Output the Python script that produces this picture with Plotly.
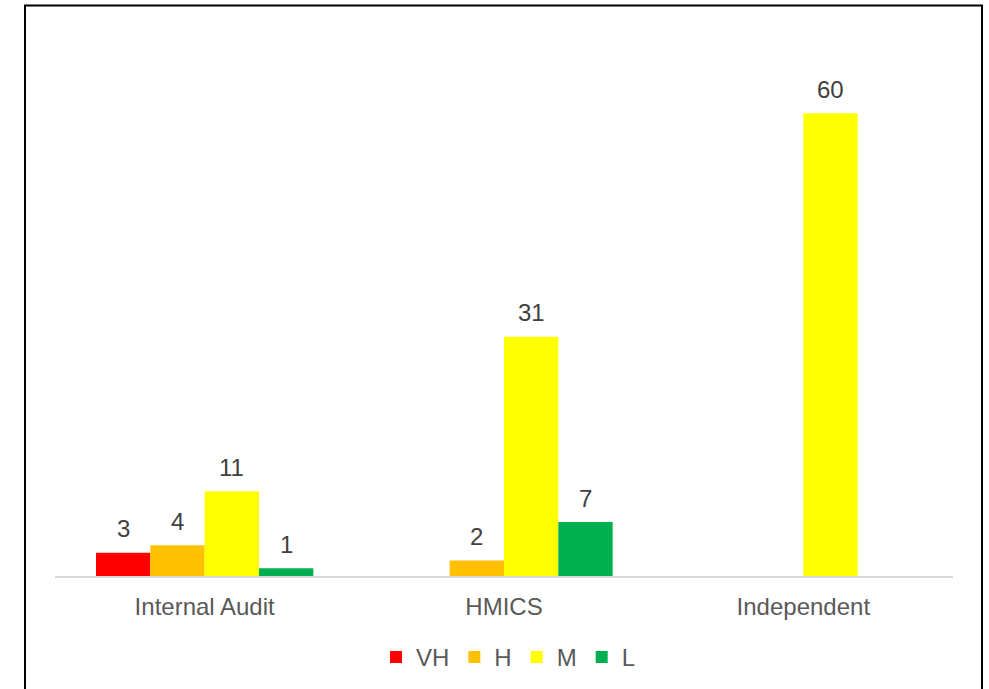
import plotly.graph_objects as go

# Categories and series values
categories = ["Internal Audit", "HMICS", "Independent"]
series_names = ["VH", "H", "M", "L"]
vh_values = [3, None, None]
h_values = [4, 2, None]
m_values = [11, 31, 60]
l_values = [1, 7, None]

series_values = [vh_values, h_values, m_values, l_values]
series_colors = ["#FF0000", "#FFC000", "#FFFF00", "#00B050"]

BAR_GAP = 0.274
FONT = "Liberation Sans, Arial, sans-serif"
FONT_SIZE = 24

x_pos = list(range(len(categories)))

fig = go.Figure()
for name, vals, color in zip(series_names, series_values, series_colors):
    fig.add_trace(go.Bar(
        x=x_pos, y=vals, name=name,
        marker=dict(color=color, line=dict(width=0)),
        hoverinfo="x+y+name",
    ))

# Value labels above each bar, placed at the bar's group offset
n = len(series_names)
bar_w = (1 - BAR_GAP) / n
annotations = []
for i, vals in enumerate(series_values):
    offset = -(1 - BAR_GAP) / 2 + bar_w * (i + 0.5)
    for xi, v in zip(x_pos, vals):
        if v is None:
            continue
        annotations.append(dict(
            x=xi + offset, y=v, xref="x", yref="y",
            text=str(v), showarrow=False,
            yanchor="middle", yshift=24,
            font=dict(family=FONT, size=FONT_SIZE, color="#404040"),
        ))

# Chart frame around the whole figure
shapes = [dict(
    type="rect", xref="paper", yref="paper",
    x0=-0.0334, x1=1.0323, y0=-0.25, y1=1.0565,
    line=dict(color="#000000", width=2), fillcolor="rgba(0,0,0,0)",
    layer="above",
)]

fig.update_layout(
    width=989, height=689,
    margin=dict(l=55, r=36, t=36, b=113, autoexpand=False),
    paper_bgcolor="white", plot_bgcolor="white",
    barmode="group", bargap=BAR_GAP, bargroupgap=0,
    font=dict(family=FONT, size=FONT_SIZE, color="#595959"),
    showlegend=True,
    legend=dict(
        orientation="h", x=0.505, xanchor="center",
        yref="container", y=0.046, yanchor="middle",
        font=dict(family=FONT, size=FONT_SIZE, color="#595959"),
        traceorder="normal", itemwidth=30,
    ),
    annotations=annotations,
    shapes=shapes,
    xaxis=dict(
        tickmode="array", tickvals=x_pos, ticktext=categories,
        range=[-0.5, len(categories) - 0.5],
        showline=True, linecolor="#D9D9D9", linewidth=2,
        showgrid=False, zeroline=False, ticks="",
        ticklabelstandoff=8,
        tickfont=dict(family=FONT, size=FONT_SIZE, color="#595959"),
    ),
    yaxis=dict(
        range=[0, 70], visible=False, showgrid=False, zeroline=False,
    ),
)

fig.write_html("out.html")
